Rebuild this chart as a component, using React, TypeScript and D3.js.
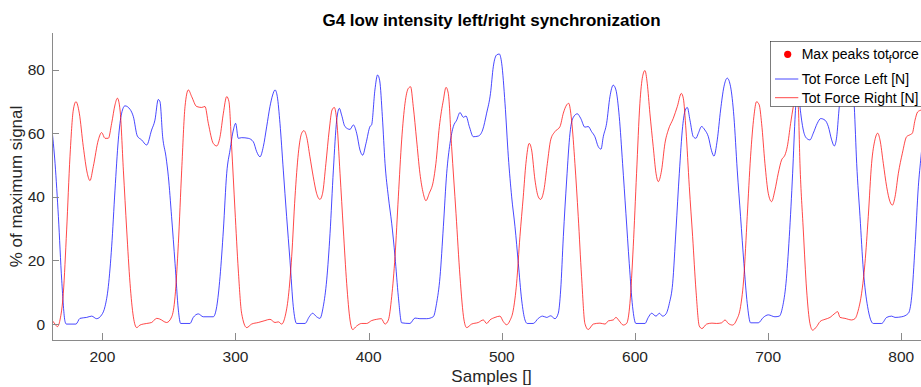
import React from "react";
import * as d3 from "d3";

const TITLE = "G4 low intensity left/right synchronization";
const X_LABEL = "Samples []";
const Y_LABEL = "% of maximum signal";
const X_TICKS = [200, 300, 400, 500, 600, 700, 800];
const Y_TICKS = [0, 20, 40, 60, 80];
const LEGEND_ITEMS = ["Max peaks tot", "Tot Force Left [N]", "Tot Force Right [N]"];

// Tot Force Left [N] (blue), as [sample, % of max]
const leftSeries: [number, number][] = [
  [160,70],[162,62],[164.5,50.5],[167,33.8],[169.5,13.8],[172,0.8],[173,0],[180.2,0],[183.2,1.8],[188.2,2.1],[192,2.5],[195.7,1.7],[199.5,2.9],
  [202,5.5],[204.5,11.8],[207,24.3],[209.5,42.1],[212,57.9],[214.5,66.3],[217,68.6],[220.8,67.5],[223.3,65.2],[226.3,59.1],
  [229.5,57.9],[233.3,56.3],[237,61],[239.5,64.1],[242,70.6],[243.3,69.9],[245.3,58.9],[247.8,52.6],[249.6,46.3],[252,33.8],
  [254.6,19.1],[257.1,4.4],[258.8,0.2],[265.8,0.2],[268.3,2.1],[272.1,3.2],[275.8,2.3],[283.3,2.3],[285.9,5.5],[288.4,14.9],
  [290.9,29.6],[293.4,47.4],[295.9,54.7],[298.4,61],[300.1,63.1],[302.1,58.4],[304.6,58.6],[309.6,58.4],[313.4,57.3],
  [315.9,54.2],[318.4,52.6],[320.9,55.8],[323.4,62],[325.9,68.4],[327.9,72],[329.7,73.6],[331.4,71.5],[333.4,63.1],
  [335.9,48.4],[338.4,33.8],[340.9,20.1],[343.4,5.5],[345.9,0.2],[352.2,0.2],[355.4,2.3],[357.9,3.4],[360.9,2.3],[363.4,1.8],
  [365.9,5.5],[368.5,13.9],[371,28.5],[373.5,48.4],[376,64.1],[378,67.8],[379.7,65.7],[382.2,62.1],[386,61.2],[388.5,62.6],
  [391,60],[393.5,54.7],[395.5,53.1],[398,56.8],[401,62.1],[402.2,62.6],[404.7,73.6],[406.7,78.3],[408.3,76.5],[410.3,65.2],
  [412.3,50.5],[414.8,40],[417.3,31.7],[419.8,21.2],[422.3,8.6],[424.8,0.4],[431,0.2],[434.8,1.9],[438.5,1.7],[443.5,1.7],
  [448.5,2.3],[451,6.5],[453.6,14.9],[456.1,30.6],[458.6,47.4],[461.1,56.8],[463.6,62.1],[466.1,64.1],[468.6,66.5],
  [471.1,65],[473.1,65.4],[475.6,62.1],[478.6,58.9],[482.3,59.1],[485.6,61],[488.6,66.3],[491.5,72.5],[493.6,80.9],
  [496.1,84.6],[498.1,84.9],[499.9,82],[502.4,69.4],[504.9,52.6],[507.4,40],[509.9,30.6],[512.4,19.1],[514.9,7.6],
  [517.4,1.3],[519.1,0.2],[523.6,0.2],[527.4,1.8],[530.6,2.5],[533.7,2.1],[536.7,2.6],[539.9,1.7],[542.4,3.4],[544.2,10.7],
  [546.2,27.5],[548.7,45.3],[551.2,60],[553.7,65],[556.7,66.1],[559.2,64.7],[562.4,61.9],[564.9,62.1],[567.4,60.5],
  [569.9,58.9],[572.4,55.8],[574.5,55],[576.2,58.9],[578.7,63.1],[581.2,71.5],[583.7,75.1],[585.7,73.6],[588.2,65.2],
  [590.7,50.5],[593.2,34.8],[595.7,19.1],[598.2,5.5],[600.7,0.2],[607.5,0.2],[610,2.1],[612.5,3.4],[615.8,2.5],[618.3,3.4],
  [620.8,2.5],[623.3,3.2],[625.8,6.5],[628.3,12.8],[630.8,29.6],[633.3,47.4],[635.8,62.1],[637.8,67.3],[639.3,68.1],
  [641.3,64.1],[643.8,58.9],[645.8,58.4],[647.5,59.9],[650,62.1],[652.5,61],[655.1,58.9],[657.5,54.5],[659.3,52.8],
  [661.8,57.9],[664.3,67.3],[666.8,74.6],[669.3,77.3],[671.8,74.6],[674.3,65.2],[676.8,48.4],[679.3,33.8],[681.8,19.1],
  [684.3,6.5],[686.8,0.4],[692.6,0.4],[696.4,2.1],[700.1,2.9],[705.1,2.3],[708.4,2.5],[710.9,5.5],[713.4,12.8],[715.9,27.5],
  [718.4,47.4],[720.4,66.3],[722.2,76],[723.9,68.4],[726.4,61],[728.9,58.4],[731.4,57.9],[733.9,60],[736.9,63.1],
  [739.5,64.6],[742.7,64.1],[745.2,62.1],[747.7,57.9],[749.7,56],[751.5,58.9],[753.2,67.3],[755.5,77],[758.5,84],
  [761.5,83],[764.7,68.4],[766.5,50.5],[769,33.8],[771.5,17],[774.7,5.5],[779,0.2],[785.3,0.2],[789,2.1],[792.8,2.5],
  [795.3,2.1],[800.3,2.3],[805.3,3.4],[807.8,8.6],[810.3,24.3],[812.8,43.2],[814.8,52.6],[817,62],
];

// Tot Force Right [N] (red), as [sample, % of max]
const rightSeries: [number, number][] = [
  [160,2],[162,1.3],[164.5,0],[166.2,-0.8],[168.2,1.3],[170.7,9.7],[173.2,29.6],[175.7,52.6],[178.2,67.3],[180.2,69.9],
  [182.7,66.3],[185.7,55.8],[188.7,47.4],[190.7,45.1],[193.2,49.5],[197,57.9],[199.5,60.2],[202,58.4],[204.5,58.4],
  [207,63.1],[209.5,68.9],[211.3,71],[213.3,67.3],[215.8,48.4],[218.3,29.6],[220.8,12.8],[223.3,2.3],[225.8,-1.1],
  [228.3,-0.3],[233.3,0.2],[237,0.5],[240.8,1.8],[243,1.6],[248.3,0.5],[252.1,2.3],[254.6,8.6],[257.1,25.4],[259.6,48.4],
  [262.1,68.4],[264.6,73.6],[267.1,71.5],[270.8,68.4],[274.6,68.1],[277.1,68.4],[279.6,63.1],[283.3,56.8],[285.9,56],
  [288.4,58.9],[290.9,66.3],[293.4,71.5],[295.1,69.9],[297.1,55.8],[299.6,35.9],[302.1,17],[304.6,3.4],[308.4,-1.1],
  [312.1,0],[317.1,0.5],[322.1,1.1],[325.9,1.5],[329.7,0.5],[332.2,0.7],[334.7,0],[337.2,2.3],[339.7,8.6],[342.2,21.2],
  [344.7,40],[347.2,53.7],[349.7,60],[351.4,60.8],[353.4,58.9],[355.9,52.6],[358.4,46.3],[360.9,41.1],[363.4,39.2],
  [365.4,41.1],[367.9,50.5],[370.4,61],[372.5,67.3],[374.2,68.1],[376,64.1],[378.5,47.4],[381,29.6],[383.5,12.8],
  [386,1.3],[388,-1.7],[391,-0.6],[394.7,0.2],[398.5,0.2],[402.2,1.1],[406,1.5],[409.5,1.7],[412.3,0],[414.8,1.3],
  [417.3,8.6],[419.8,21.2],[422.3,40],[424.8,57.9],[427.3,69.4],[429.8,74.1],[431.5,74.6],[433.5,68.4],[436,57.9],
  [438.5,47.4],[441,41.1],[443,38.8],[445.5,41.1],[448.5,44.8],[450.5,50.5],[453.1,62.1],[456.1,70.4],[458.1,74.4],
  [459.8,72.5],[462.3,55.8],[465.6,34.8],[468.6,14.9],[471.6,1.3],[473.6,-1.1],[477.3,0],[482.3,0.5],[486.1,1.3],
  [488.6,0.2],[491.1,1.3],[494.9,2.1],[498.6,2.5],[501.1,0.8],[503.6,-0.2],[506.1,1.1],[508.6,4.4],[511.1,12.8],
  [513.6,27.5],[516.1,40],[518.1,50.5],[520.6,56.8],[522.4,54.7],[524.9,45.3],[527.4,40],[529.1,39.2],[531.6,42.1],
  [534.2,50.5],[536.7,57.9],[539.9,60.5],[543.7,62.1],[546.2,66.3],[548.7,68.9],[550.2,69.4],[552.4,64.1],[554.9,50.5],
  [557.4,33.8],[559.9,14.9],[562.4,0.2],[564.9,-1.7],[568.7,0],[573.7,0.3],[577.5,0],[580,1],[583.7,1.3],[585.7,2.1],
  [588.2,1],[591.2,-0.3],[593.7,0.2],[596.2,6.5],[598.7,24.3],[601.2,47.4],[603.7,69.4],[605.7,77.8],[607.5,79.7],
  [609.2,75.7],[611.2,66.3],[613.7,55.8],[615.8,47.4],[617.5,44.8],[620,48.4],[622.5,56.8],[625,61],[628.8,64.7],
  [631.8,68.4],[634.8,72.5],[636.3,71],[638.3,61],[640.8,43.2],[643.3,27.5],[645.8,10.7],[648.3,-0.6],[650.3,-1.4],
  [653.8,0],[657.8,0.3],[661.3,0.2],[665.1,0.4],[667.6,1.3],[670.1,0.2],[673.3,-0.3],[676.3,1.3],[679.3,5.5],[681.8,14.9],
  [684.3,33.8],[686.8,52.6],[689.3,65.2],[691.3,69.9],[693.3,68.9],[695.1,63.1],[697.6,50.5],[700.1,41.1],[702.6,38.5],
  [705.1,42.1],[707.6,47.4],[710.1,51.6],[712.6,53.1],[714.4,55.8],[716.9,63.1],[718.9,68.4],[720.5,72],[722.6,68.4],
  [723.9,50.5],[726.4,29.6],[728.9,10.7],[731.4,0.2],[733.4,-1.9],[736.4,-0.8],[739,0.8],[742.7,1.5],[746.5,2.1],
  [750.2,3.4],[752.2,3.9],[754,2.1],[757.7,1.8],[762.7,1.3],[765.2,1.7],[767.7,4.4],[770.2,9.7],[772.7,19.1],[775.2,33.8],
  [777.7,50.5],[780.2,57.9],[782.3,60],[784,57.9],[786.5,50.5],[789,43.2],[791.5,38.5],[793.3,37.4],[795.3,40],
  [797.8,47.4],[800.8,53.7],[804,58.9],[806.5,59.5],[808.3,60],[810.3,64.1],[812.3,66.7],[814.8,67.3],[817,68],
];

const W = 921;
const H = 387;
const PLOT = { left: 52, right: 921, top: 33, bottom: 340 };
const X_DOMAIN: [number, number] = [162.2, 814.8];
const Y_DOMAIN: [number, number] = [-5, 91.5];
const FONT = "'Liberation Sans', Arial, Helvetica, sans-serif";
const AXIS_COLOR = "#262626";

export default function App() {
  const x = d3.scaleLinear().domain(X_DOMAIN).range([PLOT.left, PLOT.right]);
  const y = d3.scaleLinear().domain(Y_DOMAIN).range([PLOT.bottom, PLOT.top]);
  const line = d3
    .line<[number, number]>()
    .x((d) => x(d[0]))
    .y((d) => y(d[1]))
    .curve(d3.curveMonotoneX);

  const cx = (PLOT.left + 931) / 2;

  return (
    <svg
      width={W}
      height={H}
      style={{ position: "absolute", left: 0, top: 0, background: "#fff" }}
      fontFamily={FONT}
    >
      <rect x={0} y={0} width={W} height={H} fill="#fff" />
      <defs>
        <clipPath id="plotclip">
          <rect x={PLOT.left} y={PLOT.top} width={PLOT.right - PLOT.left} height={PLOT.bottom - PLOT.top} />
        </clipPath>
      </defs>
      <g clipPath="url(#plotclip)">
        <path d={line(leftSeries) || ""} fill="none" stroke="#0000ff" strokeWidth={0.9} strokeOpacity={0.8} />
        <path d={line(rightSeries) || ""} fill="none" stroke="#ff0000" strokeWidth={0.9} strokeOpacity={0.8} />
      </g>
      {/* axes */}
      <line x1={PLOT.left + 0.5} x2={PLOT.left + 0.5} y1={PLOT.top} y2={PLOT.bottom} stroke="#8a8a8a" strokeWidth={1} />
      <line x1={PLOT.left} x2={PLOT.right} y1={PLOT.bottom + 0.5} y2={PLOT.bottom + 0.5} stroke="#8a8a8a" strokeWidth={1} />
      {X_TICKS.map((t) => (
        <g key={"xt" + t}>
          <line x1={Math.round(x(t)) + 0.5} x2={Math.round(x(t)) + 0.5} y1={PLOT.bottom} y2={PLOT.bottom - 7} stroke="#8a8a8a" strokeWidth={1} />
          <text x={x(t)} y={362} textAnchor="middle" fontSize={15.5} fill={AXIS_COLOR}>
            {t}
          </text>
        </g>
      ))}
      {Y_TICKS.map((t) => (
        <g key={"yt" + t}>
          <line x1={PLOT.left} x2={PLOT.left + 7} y1={Math.round(y(t)) + 0.5} y2={Math.round(y(t)) + 0.5} stroke="#8a8a8a" strokeWidth={1} />
          <text x={45} y={y(t) + 5.5} textAnchor="end" fontSize={15.5} fill={AXIS_COLOR}>
            {t}
          </text>
        </g>
      ))}
      {/* labels */}
      <text x={cx} y={26} textAnchor="middle" fontSize={17} fontWeight="bold" fill="#000">
        {TITLE}
      </text>
      <text x={cx} y={382} textAnchor="middle" fontSize={17} fill={AXIS_COLOR}>
        {X_LABEL}
      </text>
      <text transform={`translate(22,186.5) rotate(-90)`} textAnchor="middle" fontSize={17} fill={AXIS_COLOR}>
        {Y_LABEL}
      </text>
      {/* legend */}
      <g>
        <rect x={770.5} y={41.5} width={200} height={65} fill="#fff" stroke="#262626" strokeWidth={0.6} />
        <circle cx={787.7} cy={54.3} r={3.6} fill="#ff0000" />
        <text x={801.7} y={59.3} fontSize={14} fill="#000">
          {LEGEND_ITEMS[0]}
          <tspan fontSize={10} dy={4}>f</tspan>
          <tspan dy={-4}>orce</tspan>
        </text>
        <line x1={775} x2={798.3} y1={79} y2={79} stroke="#0000ff" strokeWidth={0.9} strokeOpacity={0.8} />
        <text x={801.7} y={84} fontSize={14} fill="#000">
          {LEGEND_ITEMS[1]}
        </text>
        <line x1={775} x2={798.3} y1={97.7} y2={97.7} stroke="#ff0000" strokeWidth={0.9} strokeOpacity={0.8} />
        <text x={801.7} y={102.7} fontSize={14} fill="#000">
          {LEGEND_ITEMS[2]}
        </text>
      </g>
    </svg>
  );
}
